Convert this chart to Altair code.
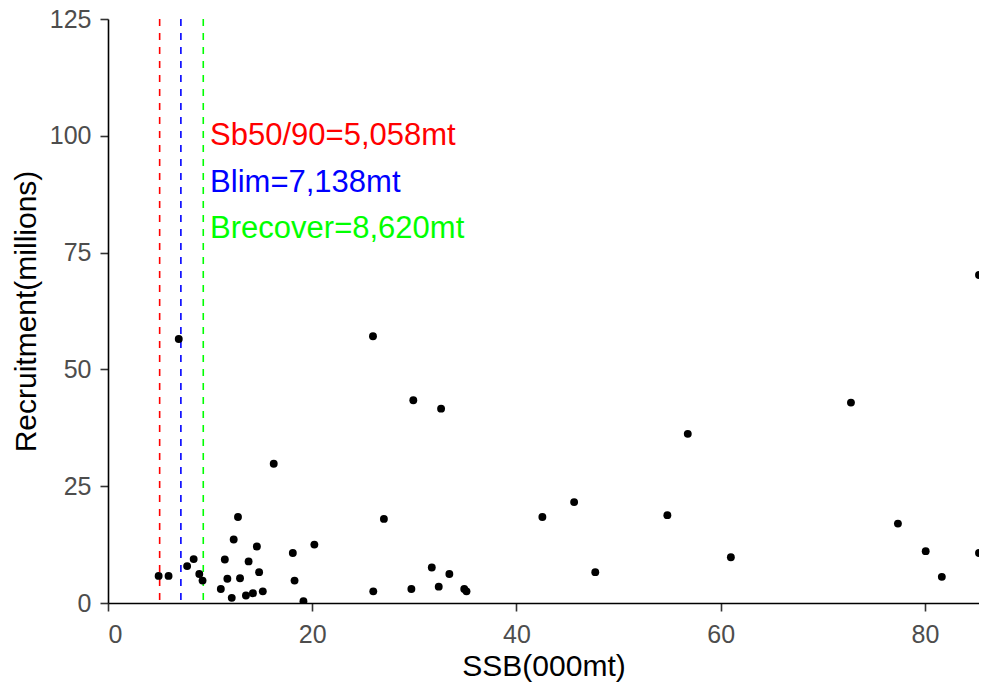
import altair as alt
import pandas as pd

# Spawning stock biomass (000 mt) and recruitment (millions)
ssb = [4.96, 5.93, 6.93, 7.75, 8.39, 8.94, 9.26, 11.05, 11.44, 11.69, 12.12, 12.31,
       12.73, 12.93, 13.51, 13.77, 14.19, 14.58, 14.80, 15.16, 16.23, 18.10, 18.27,
       19.14, 20.21, 25.95, 25.98, 27.02, 29.71, 29.90, 31.71, 32.39, 32.62, 33.43,
       34.89, 35.11, 42.54, 45.65, 47.72, 54.78, 56.78, 61.00, 72.76, 77.36, 80.08,
       81.66, 85.30, 85.30]
rec = [5.8, 5.8, 56.5, 7.9, 9.4, 6.2, 4.8, 3.0, 9.3, 5.2, 1.1, 13.6,
       18.4, 5.3, 1.6, 8.9, 2.1, 12.1, 6.6, 2.5, 29.8, 10.7, 4.8,
       0.4, 12.5, 57.1, 2.5, 18.0, 3.0, 43.4, 7.6, 3.5, 41.6, 6.2,
       3.0, 2.5, 18.4, 21.6, 6.6, 18.8, 36.2, 9.8, 42.9, 17.0, 11.1,
       5.6, 70.2, 10.7]

ref_x = [5.058, 7.138, 9.33]
ref_color = ["#FF0000", "#0000FF", "#00FF00"]
label_text = ["Sb50/90=5,058mt", "Blim=7,138mt", "Brecover=8,620mt"]
label_x = [10.0, 10.0, 10.0]
label_y = [100, 90, 80]

pts = pd.DataFrame({"ssb": ssb, "rec": rec})
refs = pd.DataFrame({"x": ref_x, "c": ref_color})
labs = pd.DataFrame({"x": label_x, "y": label_y, "t": label_text, "c": ref_color})

xscale = alt.Scale(domain=[0, 85.3], nice=False, zero=False)
yscale = alt.Scale(domain=[0, 125], nice=False)

FONT = "Liberation Sans"

xaxis = alt.Axis(title="SSB(000mt)", values=[0, 20, 40, 60, 80], grid=False,
                 domainColor="#000000", domainWidth=1.6, tickColor="#333333",
                 tickWidth=1.6, tickSize=8, labelPadding=11, labelFontSize=25,
                 labelColor="#4D4D4D", labelFont=FONT, titleFont=FONT,
                 titleFontSize=30, titleFontWeight="normal", titleColor="#000000",
                 titleBaseline="alphabetic", titleY=72)
yaxis = alt.Axis(title="Recruitment(millions)", values=[0, 25, 50, 75, 100, 125],
                 grid=False, domainColor="#000000", domainWidth=1.6,
                 tickColor="#333333", tickWidth=1.6, tickSize=8, labelPadding=9,
                 labelFontSize=25, labelColor="#4D4D4D", labelFont=FONT,
                 titleFont=FONT, titleFontSize=30, titleFontWeight="normal",
                 titleColor="#000000", titleBaseline="alphabetic", titleX=-73,
                 titleY=292)

points = alt.Chart(pts).mark_circle(size=62, color="#000000", opacity=1, clip=True).encode(
    x=alt.X("ssb:Q", scale=xscale, axis=xaxis),
    y=alt.Y("rec:Q", scale=yscale, axis=yaxis),
)

rules = alt.Chart(refs).mark_rule(strokeDash=[7, 7], strokeWidth=1.6).encode(
    x=alt.X("x:Q", scale=xscale),
    color=alt.Color("c:N", scale=None),
)

texts = alt.Chart(labs).mark_text(align="left", baseline="middle", fontSize=31,
                                   font=FONT).encode(
    x=alt.X("x:Q", scale=xscale),
    y=alt.Y("y:Q", scale=yscale),
    text="t:N",
    color=alt.Color("c:N", scale=None),
)

chart = alt.layer(rules, points, texts).properties(
    width=871, height=584,
    background="#FFFFFF",
    autosize=alt.AutoSizeParams(type="none"),
    padding={"left": 100, "top": 11, "right": 0, "bottom": 80},
).configure_view(stroke="transparent", strokeWidth=0)

chart.save("out.html", embed_options={"renderer": "svg", "actions": False})
